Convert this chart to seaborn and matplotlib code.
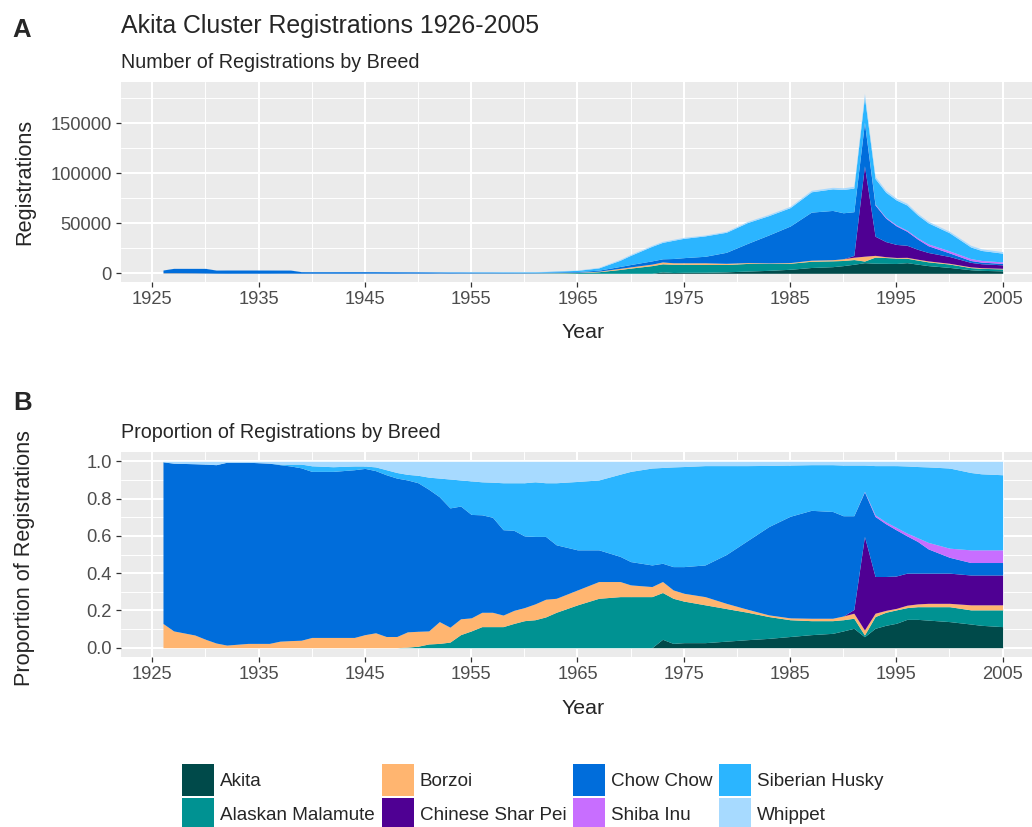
import numpy as np
import pandas as pd
import matplotlib
matplotlib.use("Agg")
import matplotlib.pyplot as plt
from matplotlib.patches import Patch, Rectangle
from matplotlib.legend_handler import HandlerPatch
from matplotlib.ticker import MultipleLocator, FuncFormatter
import seaborn as sns

# ---------------- data ----------------
years = [1926, 1927, 1929, 1930, 1931, 1932, 1934, 1936, 1937, 1938, 1939, 1940,
         1942, 1944, 1945, 1946, 1947, 1948, 1949, 1950, 1951, 1952, 1953, 1954,
         1955, 1956, 1957, 1958, 1959, 1960, 1961, 1962, 1963, 1965, 1967, 1969,
         1970, 1972, 1973, 1974, 1975, 1977, 1979, 1981, 1983, 1985, 1987, 1989,
         1990, 1991, 1992, 1993, 1994, 1995, 1996, 1997, 1998, 2000, 2002, 2003,
         2005]

total_registrations = [3300, 5000, 5000, 5000, 3300, 3300, 3300, 3300, 3300, 3300, 1700, 1700,
                       1700, 1700, 1700, 1700, 1700, 1700, 1700, 1700, 1700, 1700, 1700, 1700,
                       1700, 1700, 1700, 1700, 1700, 1700, 1700, 2000, 2500, 3300, 6000, 14000,
                       19000, 28000, 32000, 34000, 36000, 38300, 42000, 52000, 59000, 67000, 83000, 86000,
                       85500, 87000, 180000, 97000, 83000, 75000, 70000, 60000, 52000, 42000, 28000, 24500,
                       21700]

# shares of registrations (percent) per breed
akita = [0, 0, 0, 0, 0, 0, 0, 0, 0, 0, 0, 0,
         0, 0, 0, 0, 0, 0, 0, 0, 0, 0, 0, 0,
         0, 0, 0, 0, 0, 0, 0, 0, 0, 0, 0, 0,
         0, 0, 4.5, 2.3, 2.7, 2.7, 3.5, 4.3, 5.0, 6.0, 7.0, 7.7,
         9.0, 10.4, 5.9, 10.4, 12.0, 13.1, 15.2, 15.2, 14.8, 14.0, 12.7, 12.0,
         11.3]
alaskan_malamute = [0, 0, 0, 0, 0, 0, 0, 0, 0, 0, 0, 0,
                    0, 0, 0, 0, 0, 0, 0.3, 0.8, 2.0, 2.3, 3.0, 7.0,
                    9.0, 11.3, 11.3, 11.3, 13.0, 14.5, 15.0, 16.5, 19.0, 23.0, 26.5, 27.4,
                    27.4, 27.4, 25.1, 24.2, 22.3, 20.3, 17.5, 14.7, 11.7, 9.0, 7.5, 6.8,
                    6.0, 5.4, 0.9, 6.3, 7.0, 7.2, 6.3, 6.8, 7.2, 8.0, 7.6, 8.3,
                    9.0]
borzoi = [13.0, 9.0, 6.8, 4.5, 2.5, 1.4, 2.3, 2.3, 3.5, 3.8, 4.0, 5.5,
          5.5, 5.5, 7.0, 8.0, 6.0, 6.0, 8.2, 8.0, 7.0, 11.7, 8.0, 8.5,
          7.0, 7.7, 7.7, 6.2, 7.0, 7.0, 8.5, 9.5, 7.5, 8.0, 9.0, 8.1,
          6.3, 5.4, 5.9, 4.5, 4.2, 4.4, 2.8, 1.6, 0.9, 1.0, 1.3, 1.3,
          2.0, 2.7, 2.7, 1.8, 1.0, 0.8, 1.3, 1.5, 1.8, 1.8, 2.7, 2.7,
          2.7]
chinese_shar_pei = [0, 0, 0, 0, 0, 0, 0, 0, 0, 0, 0, 0,
                    0, 0, 0, 0, 0, 0, 0, 0, 0, 0, 0, 0,
                    0, 0, 0, 0, 0, 0, 0, 0, 0, 0, 0, 0,
                    0, 0, 0, 0, 0, 0, 0, 0, 0, 0, 0, 0,
                    0, 2.0, 50.2, 19.7, 18.2, 17.4, 17.2, 16.5, 16.2, 16.2, 16.0, 16.0,
                    16.0]
chow_chow = [86.7, 90.0, 91.9, 94.0, 95.7, 98.1, 97.2, 96.7, 94.7, 93.7, 92.5, 89.1,
             89.1, 90.0, 89.2, 87.0, 86.8, 85.0, 81.5, 79.7, 76.0, 67.0, 64.0, 60.5,
             55.5, 52.3, 51.0, 45.8, 43.0, 38.5, 36.2, 33.7, 28.7, 21.5, 17.0, 13.5,
             12.5, 11.6, 9.8, 12.5, 14.3, 17.0, 26.2, 36.9, 47.4, 54.5, 57.9, 57.3,
             53.8, 50.3, 23.9, 32.2, 28.3, 24.7, 20.0, 17.0, 13.0, 8.5, 6.7, 6.7,
             6.7]
shiba_inu = [0, 0, 0, 0, 0, 0, 0, 0, 0, 0, 0, 0,
             0, 0, 0, 0, 0, 0, 0, 0, 0, 0, 0, 0,
             0, 0, 0, 0, 0, 0, 0, 0, 0, 0, 0, 0,
             0, 0, 0, 0, 0, 0, 0, 0, 0, 0, 0, 0,
             0, 0, 0.3, 0.9, 1.0, 1.3, 1.5, 2.0, 3.5, 4.9, 6.8, 6.8,
             6.8]
siberian_husky = [0.1, 0, 0, 0, 0, 0, 0, 0, 0.3, 1.0, 2.0, 3.0,
                  2.5, 2.0, 1.3, 2.0, 2.7, 3.0, 3.0, 4.0, 6.5, 10.0, 15.5, 14.0,
                  18.0, 17.7, 18.8, 25.2, 25.5, 28.5, 29.3, 28.8, 33.3, 36.7, 37.5, 44.1,
                  48.4, 52.0, 51.4, 53.5, 53.7, 53.3, 47.7, 40.2, 32.8, 27.5, 24.5, 25.1,
                  27.2, 27.2, 14.1, 26.4, 30.2, 33.2, 36.0, 38.2, 40.5, 43.0, 41.5, 40.8,
                  40.3]
whippet = [0.2, 1.0, 1.3, 1.5, 1.8, 0.5, 0.5, 1.0, 1.5, 1.5, 1.5, 2.4,
           2.9, 2.5, 2.5, 3.0, 4.5, 6.0, 7.0, 7.5, 8.5, 9.0, 9.5, 10.0,
           10.5, 11.0, 11.2, 11.5, 11.5, 11.5, 11.0, 11.5, 11.5, 10.8, 10.0, 6.9,
           5.4, 3.6, 3.3, 3.0, 2.8, 2.3, 2.3, 2.3, 2.2, 2.0, 1.8, 1.8,
           2.0, 2.0, 2.0, 2.3, 2.3, 2.3, 2.5, 2.8, 3.0, 3.6, 6.0, 6.7,
           7.2]

breeds = ["Akita", "Alaskan Malamute", "Borzoi", "Chinese Shar Pei",
          "Chow Chow", "Shiba Inu", "Siberian Husky", "Whippet"]
breed_colors = ["#004A4A", "#009292", "#FFB570", "#4F0093",
                "#006DDB", "#C86EFF", "#2BB5FF", "#A7DAFF"]

shares = pd.DataFrame({
    "Akita": akita, "Alaskan Malamute": alaskan_malamute, "Borzoi": borzoi,
    "Chinese Shar Pei": chinese_shar_pei, "Chow Chow": chow_chow,
    "Shiba Inu": shiba_inu, "Siberian Husky": siberian_husky, "Whippet": whippet,
}, index=years)
counts = shares.div(shares.sum(axis=1), axis=0).mul(total_registrations, axis=0)
props = counts.div(counts.sum(axis=1), axis=0)

# ---------------- style ----------------
sns.set_theme(style="darkgrid", rc={
    "axes.facecolor": "#EBEBEB",
    "grid.color": "white",
    "axes.edgecolor": "#EBEBEB",
})
plt.rcParams["font.family"] = ["Liberation Sans", "DejaVu Sans"]

W, H = 1032, 827
fig = plt.figure(figsize=(W / 100, H / 100), dpi=100)


def fx(px):
    return px / W


def fy(py):
    return 1 - py / H


left_px, right_px = 121, 1044.6
axA = fig.add_axes([fx(left_px), fy(282), (right_px - left_px) / W, (282 - 82) / H])
axB = fig.add_axes([fx(left_px), fy(657), (right_px - left_px) / W, (657 - 452) / H])

tick_color = "#4D4D4D"

# Panel A: stacked counts
axA.stackplot(counts.index.values, *[counts[b].values for b in breeds],
              colors=breed_colors, linewidth=0)
axA.set_ylim(-8700, 191300)
axA.set_yticks([0, 50000, 100000, 150000])
axA.yaxis.set_minor_locator(MultipleLocator(25000))
axA.yaxis.set_major_formatter(FuncFormatter(lambda v, p: f"{int(round(v))}"))

# Panel B: stacked proportions
axB.stackplot(props.index.values, *[props[b].values for b in breeds],
              colors=breed_colors, linewidth=0)
axB.set_ylim(-0.05, 1.05)
axB.set_yticks([0, 0.2, 0.4, 0.6, 0.8, 1.0])
axB.yaxis.set_minor_locator(MultipleLocator(0.1))
axB.yaxis.set_major_formatter(FuncFormatter(lambda v, p: f"{v:.1f}"))

for ax in (axA, axB):
    ax.set_xlim(1922.05, 2008.95)
    ax.set_xticks(range(1925, 2006, 10))
    ax.xaxis.set_minor_locator(MultipleLocator(5))
    ax.xaxis.set_major_formatter(FuncFormatter(lambda v, p: f"{int(round(v))}"))
    ax.grid(which="major", color="white", linewidth=1.45)
    ax.grid(which="minor", color="white", linewidth=0.7)
    ax.tick_params(which="major", length=3.6, width=0.9, color="#333333",
                   labelsize=13.2, labelcolor=tick_color, pad=3.2,
                   bottom=True, left=True)
    ax.tick_params(which="minor", length=0, bottom=False, left=False)
    for s in ax.spines.values():
        s.set_visible(False)
    ax.set_axisbelow(True)
    ax.set_xlabel("")
    ax.set_ylabel("")

# ---------------- texts ----------------
fig.text(fx(12), fy(36.7), "A", fontsize=18.5, fontweight="bold", va="baseline", ha="left")
fig.text(fx(121), fy(33.3), "Akita Cluster Registrations 1926-2005", fontsize=17.9,
         va="baseline", ha="left")
fig.text(fx(121), fy(68.3), "Number of Registrations by Breed", fontsize=14.2,
         va="baseline", ha="left")
fig.text(fx(25), fy(182), "Registrations", fontsize=15.6, rotation=90,
         va="center", ha="center")
fig.text(fx(583), fy(338), "Year", fontsize=15.4, va="baseline", ha="center")

fig.text(fx(13), fy(410), "B", fontsize=18.5, fontweight="bold", va="baseline", ha="left")
fig.text(fx(121), fy(438.3), "Proportion of Registrations by Breed", fontsize=14.2,
         va="baseline", ha="left")
fig.text(fx(25), fy(558), "Proportion of Registrations", fontsize=15.6, rotation=90,
         va="center", ha="center")
fig.text(fx(583), fy(713.5), "Year", fontsize=15.4, va="baseline", ha="center")


# ---------------- legend ----------------
def full_box(legend, orig_handle, xdescent, ydescent, width, height, fontsize):
    return Rectangle((-xdescent, -ydescent - 2.5), width, height + ydescent)


handles = [Patch(facecolor=c, edgecolor="none", label=b) for b, c in zip(breeds, breed_colors)]
leg_fs = 13.6
fig.legend(handles=handles, ncol=4, loc="upper left",
           bbox_to_anchor=(fx(182), fy(767.5)), frameon=False, fontsize=leg_fs,
           handlelength=1.7, handleheight=1.7, handletextpad=0.32,
           columnspacing=0.35, labelspacing=0.45, borderpad=0, borderaxespad=0,
           handler_map={Patch: HandlerPatch(patch_func=full_box)})

fig.savefig("out.png", dpi=100)
